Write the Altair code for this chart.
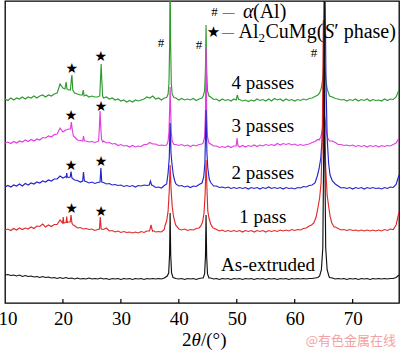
import altair as alt
import pandas as pd

# ---------------- data (2theta in degrees, stacked intensity in a.u.) ----------------
TWO_THETA = [round(10 + 0.5 * i, 1) for i in range(137)]   # 10.0 ... 78.0 scan grid

GREEN_4 = [
    204, 202.5, 205, 203, 205, 204, 206, 204, 206, 205,
    207, 205, 207, 208, 206, 208, 207, 209, 210, 219,
    215, 214, 213, 211, 210, 209, 208, 208, 208, 206,
    207, 206, 206, 206, 205, 206, 204, 205, 203, 204,
    202, 203, 201, 202.5, 201, 203, 202, 203, 204, 206,
    205, 207, 204, 205, 203, 205, 205, 205, 205, 205,
    203, 204.5, 203, 204, 203, 204.5, 202.5, 204, 205, 206,
    206, 206, 203.5, 204, 202, 204, 202.5, 203.5, 202, 204,
    203, 203.5, 202, 203, 201.5, 203, 202, 204, 202.5, 203.5,
    202, 204, 202, 204.5, 203, 204, 202, 204, 202.5, 203.5,
    202, 203.5, 202.5, 204, 203, 204.5, 205, 206.5, 208, 210,
    210, 210, 207, 206, 204.5, 204, 203, 203.5, 202, 203.5,
    202.5, 204, 202, 203.5, 202.5, 204, 202, 203.5, 202.5, 203,
    202, 204, 202.5, 204, 203.5, 206, 213,
]
MAGENTA_3 = [
    160, 161, 159.5, 161.5, 160, 162, 161, 163, 161.5, 163.5,
    162, 164, 163, 165.5, 165, 167, 166, 168.5, 169, 175,
    171, 173, 174, 172, 166, 163, 162.5, 162, 162, 161,
    161.5, 160.5, 161.5, 161, 162, 160, 160.5, 159, 159.5, 157.5,
    158.5, 157, 157.5, 156, 157.5, 156, 157, 156.5, 158.5, 158.5,
    160.5, 159, 159, 157.5, 158, 157.5, 158, 158, 158, 158.5,
    157.5, 158.5, 157, 158, 156.5, 158, 157, 158.5, 159, 160,
    160, 159, 157, 157, 155.5, 156.5, 155.5, 157, 155.5, 157,
    157, 156, 157.5, 156, 157.5, 156.5, 158, 156.5, 158, 157,
    158.5, 157.5, 158.5, 157.5, 159.5, 158, 159.5, 158.5, 159.5, 158,
    159, 157.5, 158.5, 157.5, 158.5, 159, 160.5, 161.5, 163.5, 166,
    170, 166, 163, 162, 160.5, 158.5, 158.5, 157.5, 158, 157,
    158, 156.5, 157.5, 156.5, 157.5, 156, 157.5, 156.5, 157.5, 156,
    157.5, 156.5, 157.5, 157, 158.5, 160, 165,
]
BLUE_2 = [
    116, 117.5, 116, 118, 117, 119, 117, 119.5, 118, 120,
    119, 121, 120, 122, 121, 123, 122, 124, 124, 127,
    125, 126.5, 125.5, 124, 123, 122.5, 121, 121, 121.5, 120,
    121, 119.5, 120.5, 120, 120.5, 119, 119.5, 118, 118.5, 117.5,
    118, 116.5, 117.5, 116.5, 117.5, 116, 117.5, 117, 118, 117.5,
    118, 117.5, 115.5, 116, 115, 117.5, 120, 125, 122, 119,
    117, 117.5, 116, 117, 115.5, 117, 116.5, 118.5, 120, 125,
    125, 120.5, 117, 117, 115.5, 116, 115, 116, 114.5, 115.5,
    114.5, 115.5, 114.5, 115.5, 114, 115.5, 114.5, 115.5, 114, 115.5,
    114.5, 116, 114.5, 115.5, 114.5, 115.5, 114, 115.5, 114.5, 115,
    114, 115.5, 115, 116.5, 116, 117.5, 118, 119.5, 124, 135,
    150, 150, 135, 125, 119, 117, 115, 115.5, 114.5, 115.5,
    114, 115.5, 114.5, 115.5, 114, 115.5, 114.5, 115.5, 114.5, 115,
    114, 115.5, 114.5, 116, 115.5, 118.5, 128,
]
RED_1 = [
    73, 74, 72.5, 74.5, 73, 75, 73.5, 75, 74, 76,
    74.5, 77, 76.5, 79, 76, 78, 76.5, 78.5, 78.5, 83,
    80, 80.5, 81, 80, 77.5, 75, 75.5, 74, 74.5, 73.5,
    74, 72.5, 73.5, 73, 73.5, 75, 72, 72.5, 71, 72,
    70.5, 71.5, 70.5, 71, 70, 71, 70, 71.5, 70.5, 72,
    71.5, 72.5, 71, 71.5, 71, 73.5, 80, 90, 85, 77,
    74, 73, 74, 72.5, 73.5, 73, 74.5, 75, 80, 95,
    92, 79, 75, 73.5, 72, 73, 71.5, 72.5, 71.5, 72.5,
    71.5, 72.5, 71, 72.5, 71.5, 72.5, 71, 72.5, 71.5, 72.5,
    71, 72.5, 71.5, 72.5, 71.5, 73, 72, 73, 72, 73.5,
    72.5, 73.5, 73, 74.5, 75, 77, 80, 86, 95, 115,
    150, 108, 87, 80, 76, 74.5, 73, 73.5, 72.5, 73.5,
    72.5, 73, 72, 73, 72, 73, 72, 73, 72, 73,
    72, 73.5, 72.5, 74, 73.5, 78, 91,
]
BLACK_0 = [
    28, 28.5, 27.5, 28, 27, 28, 26.5, 27.5, 26.5, 27,
    26, 26.5, 25.5, 26.5, 25.5, 26, 25, 25.5, 24.5, 25.5,
    24.5, 25.5, 24.5, 25, 24, 25, 24, 24.5, 24, 25,
    24, 24.5, 24, 25, 24, 24.5, 23.5, 24.5, 24, 24.5,
    23.5, 24.5, 24, 24.5, 23.5, 24.5, 24, 24.5, 23.5, 24.5,
    24, 24.5, 24, 24.5, 24, 25, 27, 27, 25, 24.5,
    24, 24.5, 23.5, 24.5, 24, 24.5, 23.5, 24.5, 25, 28,
    28, 25, 24, 24.5, 23.5, 24.5, 24, 24.5, 23.5, 24.5,
    24, 24.5, 23.5, 24.5, 24, 24.5, 23.5, 24.5, 24, 24.5,
    23.5, 24.5, 24, 24.5, 23.5, 24.5, 24, 24.5, 23.5, 24.5,
    24, 24.5, 24, 24.5, 24, 24.5, 24.5, 25, 25.5, 30,
    60, 30, 25.5, 25, 24, 24.5, 24, 24.5, 23.5, 24.5,
    24, 24.5, 23.5, 24.5, 24, 24.5, 23.5, 24.5, 24, 24.5,
    24, 24.5, 24, 24.5, 24.5, 25.5, 28,
]

# diffraction peaks read more finely (2theta, intensity); 340 = beyond the frame top
GREEN_PEAKS = [
    [(20.35, 214), (20.55, 221), (20.7, 214)],
    [(21.3, 213), (21.45, 224), (21.55, 228), (21.7, 213)],
    [(23.35, 208), (23.5, 213), (23.65, 207)],
    [(26.35, 207), (26.5, 226), (26.6, 239), (26.7, 224), (26.85, 207)],
    [(37.9, 205.5), (38.15, 209), (38.3, 220), (38.42, 260), (38.5, 340), (38.58, 260), (38.7, 220), (38.85, 209), (39.15, 205.5)],
    [(44.2, 207), (44.45, 212), (44.6, 235), (44.7, 278), (44.8, 235), (44.95, 212), (45.2, 207)],
    [(49.9, 203), (50.1, 208), (50.3, 203.5)],
    [(64.3, 210), (64.6, 215), (64.85, 225), (65.1, 245), (65.35, 225), (65.6, 214), (65.9, 209)],
]
MAGENTA_PEAKS = [
    [(21.3, 174), (21.45, 181), (21.6, 174), (21.8, 167)],
    [(23.4, 162), (23.55, 167), (23.7, 162)],
    [(26.15, 162), (26.3, 176), (26.4, 192), (26.5, 180), (26.65, 164), (26.85, 161)],
    [(37.9, 158), (38.15, 162), (38.3, 171), (38.42, 195), (38.5, 216), (38.58, 195), (38.7, 171), (38.85, 162), (39.15, 158.5)],
    [(44.2, 160), (44.45, 166), (44.6, 190), (44.7, 256), (44.8, 190), (44.95, 166), (45.2, 160)],
    [(49.9, 157), (50.05, 165), (50.2, 157.5)],
    [(64.2, 163), (64.5, 166), (64.75, 172), (64.95, 183), (65.1, 188), (65.25, 183), (65.45, 172), (65.7, 165), (66.0, 162)],
]
BLUE_PEAKS = [
    [(20.55, 126), (20.65, 130), (20.75, 126)],
    [(21.25, 126), (21.4, 131.5), (21.55, 125)],
    [(23.4, 122), (23.55, 131), (23.7, 122)],
    [(26.4, 121), (26.55, 135), (26.7, 121)],
    [(34.9, 118), (35.1, 122), (35.3, 118)],
    [(37.9, 119), (38.15, 130), (38.35, 145), (38.5, 180), (38.65, 150), (38.8, 140), (39.05, 128), (39.3, 122)],
    [(44.3, 126), (44.5, 140), (44.7, 193), (44.85, 150), (45.0, 135), (45.25, 124)],
    [(63.5, 120), (63.9, 127), (64.2, 134), (64.5, 145), (64.75, 165), (65.0, 220), (65.2, 340), (65.4, 220), (65.6, 165), (65.85, 140), (66.1, 128), (66.5, 122), (67.0, 119)],
]
RED_PEAKS = [
    [(19.95, 80), (20.05, 86), (20.15, 80)],
    [(20.55, 80.5), (20.65, 86.5), (20.75, 80.5)],
    [(21.25, 81), (21.4, 88), (21.55, 80), (21.75, 78)],
    [(26.3, 74), (26.45, 86), (26.6, 74)],
    [(34.95, 72), (35.2, 78), (35.45, 72)],
    [(37.6, 77), (37.9, 82), (38.15, 92), (38.35, 112), (38.5, 138), (38.65, 115), (38.85, 97), (39.1, 86), (39.45, 78), (39.9, 75)],
    [(43.8, 77), (44.1, 81), (44.35, 90), (44.55, 110), (44.7, 143), (44.85, 115), (45.0, 92), (45.2, 85), (45.5, 79), (45.9, 75)],
    [(62.9, 78), (63.3, 80), (63.7, 86), (64.0, 95), (64.3, 105), (64.55, 120), (64.75, 160), (64.95, 283), (65.15, 180), (65.35, 135), (65.6, 108), (65.85, 97), (66.1, 87), (66.4, 80), (66.8, 76)],
]
BLACK_PEAKS = [
    [(38.0, 27), (38.25, 30), (38.4, 48), (38.5, 90), (38.6, 48), (38.75, 30), (39.0, 25.5)],
    [(44.2, 25), (44.45, 29), (44.6, 47), (44.7, 88), (44.8, 47), (44.95, 29), (45.2, 25)],
    [(64.3, 27), (64.6, 33), (64.85, 55), (65.0, 150), (65.1, 340), (65.2, 150), (65.35, 55), (65.6, 33), (65.9, 27)],
]

SERIES = ["4 passes", "3 passes", "2 passes", "1 pass", "As-extruded"]
COLORS = ["#2f9a2f", "#e23ce2", "#2424cc", "#e02a2a", "#111111"]

LABEL_THETA = [54.5, 54.5, 54.5, 54.5, 55.4]
LABEL_I = [220.5, 177, 130.5, 86.5, 38.5]

STAR_THETA = [21.51, 26.52, 21.39, 26.57, 21.39, 26.57, 21.48, 26.57]
STAR_I = [234, 246.5, 187, 196.5, 137.5, 141.5, 94, 91]

HASH_THETA = [36.92, 43.48, 63.33]
HASH_I = [260, 258, 250]

TICKS = [10, 20, 30, 40, 50, 60, 70]

# legend block and axis-title pieces
LEG_TEXT = ["#", "—", "α", "(Al)", "—", "Al", "2", "CuMg(", "S", "′ phase)"]
LEG_THETA = [46.16, 47.54, 51.08, 52.8, 47.45, 50.3, 53.76, 54.96, 65.12, 66.84]
LEG_I = [291, 291, 291, 291, 271, 271, 265, 271, 271, 271]
LEG_SIZE = [13, 12, 20, 20, 12, 20, 13, 20, 20, 20]
LEG_STYLE = ["normal", "normal", "italic", "normal", "normal", "normal", "normal", "normal", "italic", "normal"]
LEG_ALIGN = ["center", "left", "left", "left", "left", "left", "left", "left", "left", "left"]

TITLE_TEXT = ["2", "θ", "/(°)"]
TITLE_THETA = [40.55, 42.19, 43.83]
TITLE_STYLE = ["normal", "italic", "normal"]
TITLE_I = -37


def build(name, base, peaks):
    spans = [(g[0][0], g[-1][0]) for g in peaks]
    pts = [(x, y) for x, y in zip(TWO_THETA, base) if not any(a <= x <= b for a, b in spans)]
    for g in peaks:
        pts.extend(g)
    pts.sort()
    return pd.DataFrame({"theta": [p[0] for p in pts], "I": [p[1] for p in pts], "series": name})


curves = [
    build(SERIES[0], GREEN_4, GREEN_PEAKS),
    build(SERIES[1], MAGENTA_3, MAGENTA_PEAKS),
    build(SERIES[2], BLUE_2, BLUE_PEAKS),
    build(SERIES[3], RED_1, RED_PEAKS),
    build(SERIES[4], BLACK_0, BLACK_PEAKS),
]

SERIF = "Liberation Serif"

X = alt.X(
    "theta:Q",
    scale=alt.Scale(domain=[10, 78], nice=False, zero=False),
    axis=alt.Axis(
        values=TICKS, ticks=False, domain=False, grid=False,
        labelFont=SERIF, labelFontSize=19, labelColor="#000", labelPadding=6,
        labelFlush=True, labelFlushOffset=7, title=None,
    ),
)
Y = alt.Y("I:Q", scale=alt.Scale(domain=[0, 302], nice=False, zero=False), axis=None)

layers = []
for df, col in zip(curves, COLORS):
    layers.append(
        alt.Chart(df).mark_line(color=col, strokeWidth=1.15, clip=True)
        .encode(x=X, y=Y, order="theta:Q")
    )

tick_df = pd.DataFrame({"theta": TICKS[1:], "I": [0] * 6, "I2": [4] * 6})
layers.append(
    alt.Chart(tick_df).mark_rule(color="#000", strokeWidth=1.2)
    .encode(x=X, y=Y, y2="I2:Q")
)

lab_df = pd.DataFrame({"theta": LABEL_THETA, "I": LABEL_I, "t": SERIES})
layers.append(
    alt.Chart(lab_df).mark_text(font=SERIF, fontSize=19, color="#000", align="center", baseline="middle")
    .encode(x=X, y=Y, text="t:N")
)

star_df = pd.DataFrame({"theta": STAR_THETA, "I": STAR_I, "t": ["★"] * len(STAR_I)})
layers.append(
    alt.Chart(star_df).mark_text(font="DejaVu Sans", fontSize=14, color="#000", align="center", baseline="middle")
    .encode(x=X, y=Y, text="t:N")
)

hash_df = pd.DataFrame({"theta": HASH_THETA, "I": HASH_I, "t": ["#"] * 3})
layers.append(
    alt.Chart(hash_df).mark_text(font=SERIF, fontSize=13, color="#000", align="center", baseline="middle")
    .encode(x=X, y=Y, text="t:N")
)

leg_df = pd.DataFrame({"theta": LEG_THETA, "I": LEG_I, "t": LEG_TEXT})
for i in range(len(LEG_TEXT)):
    layers.append(
        alt.Chart(leg_df.iloc[[i]]).mark_text(font=SERIF, fontSize=LEG_SIZE[i], fontStyle=LEG_STYLE[i],
                                               color="#000", align=LEG_ALIGN[i], baseline="middle")
        .encode(x=X, y=Y, text="t:N")
    )
legstar_df = pd.DataFrame({"theta": [45.99], "I": [271], "t": ["★"]})
layers.append(
    alt.Chart(legstar_df).mark_text(font="DejaVu Sans", fontSize=15, color="#000", align="center", baseline="middle")
    .encode(x=X, y=Y, text="t:N")
)

title_df = pd.DataFrame({"theta": TITLE_THETA, "I": [TITLE_I] * 3, "t": TITLE_TEXT})
for i in range(3):
    layers.append(
        alt.Chart(title_df.iloc[[i]]).mark_text(font=SERIF, fontSize=19, fontStyle=TITLE_STYLE[i],
                                                 color="#000", align="left", baseline="middle")
        .encode(x=X, y=Y, text="t:N")
    )

wm_df = pd.DataFrame({"theta": [69.7], "I": [-38], "t": ["@有色金属在线"]})
layers.append(
    alt.Chart(wm_df).mark_text(font="Noto Sans CJK SC", fontSize=13, color="#f2a2a2", align="center", baseline="middle")
    .encode(x=X, y=Y, text="t:N")
)

chart = alt.layer(*layers).properties(
    width=394, height=302,
    padding={"left": 5, "top": 1, "right": 1, "bottom": 47},
    autosize=alt.AutoSizeParams(type="none"),
    background="white",
).configure_view(stroke="#000", strokeWidth=1.3)

chart.save("out.html", embed_options={"renderer": "svg", "actions": False})
